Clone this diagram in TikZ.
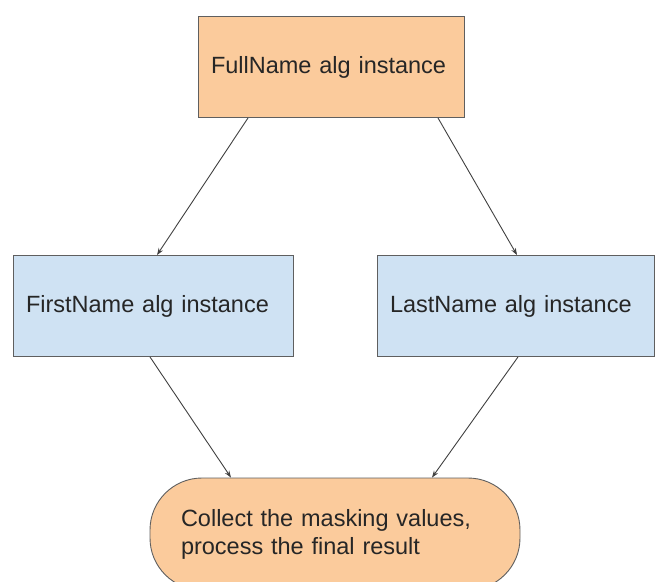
\documentclass[tikz,border=0pt]{standalone}
\usepackage{fontspec}
\setmainfont{Liberation Sans}
\usetikzlibrary{arrows.meta}
\definecolor{boxorange}{HTML}{FBCB9C}
\definecolor{boxblue}{HTML}{CFE2F3}
\definecolor{boxline}{HTML}{5F5F5F}
\definecolor{arrowline}{HTML}{404040}
\begin{document}
\begin{tikzpicture}[
    x=1pt, y=-1pt,
    every node/.style={draw=boxline, line width=0.9pt, align=left, inner xsep=13pt,
        font=\fontsize{23.5}{28}\selectfont, text=black!85},
    algbox/.style={rectangle, minimum height=101pt},
    fullbox/.style={algbox, fill=boxorange, text width=240pt},
    partbox/.style={algbox, fill=boxblue},
    collectbox/.style={rectangle, rounded corners=52pt, fill=boxorange, text width=308pt,
        inner xsep=31pt, minimum height=112pt},
    link/.style={draw=arrowline, line width=0.9pt, -{Stealth[length=7pt, width=5pt]}}
]
\useasboundingbox (0,0) rectangle (655,581);
\node[fullbox] (full) at (331,67) {FullName alg instance};
\node[partbox, text width=254pt] (first) at (153,306) {FirstName alg instance};
\node[partbox, text width=251pt] (last) at (515.5,306) {LastName alg instance};
\node[collectbox] (collect) at (335,534) {Collect the masking values,\\process the final result};
\draw[link] ([xshift=-83pt]full.south) -- ([xshift=4pt]first.north);
\draw[link] ([xshift=107pt]full.south) -- ([xshift=1.5pt]last.north);
\draw[link] ([xshift=-3pt]first.south) -- ([xshift=-104pt]collect.north);
\draw[link] ([xshift=2.5pt]last.south) -- ([xshift=97pt]collect.north);
\end{tikzpicture}
\end{document}
